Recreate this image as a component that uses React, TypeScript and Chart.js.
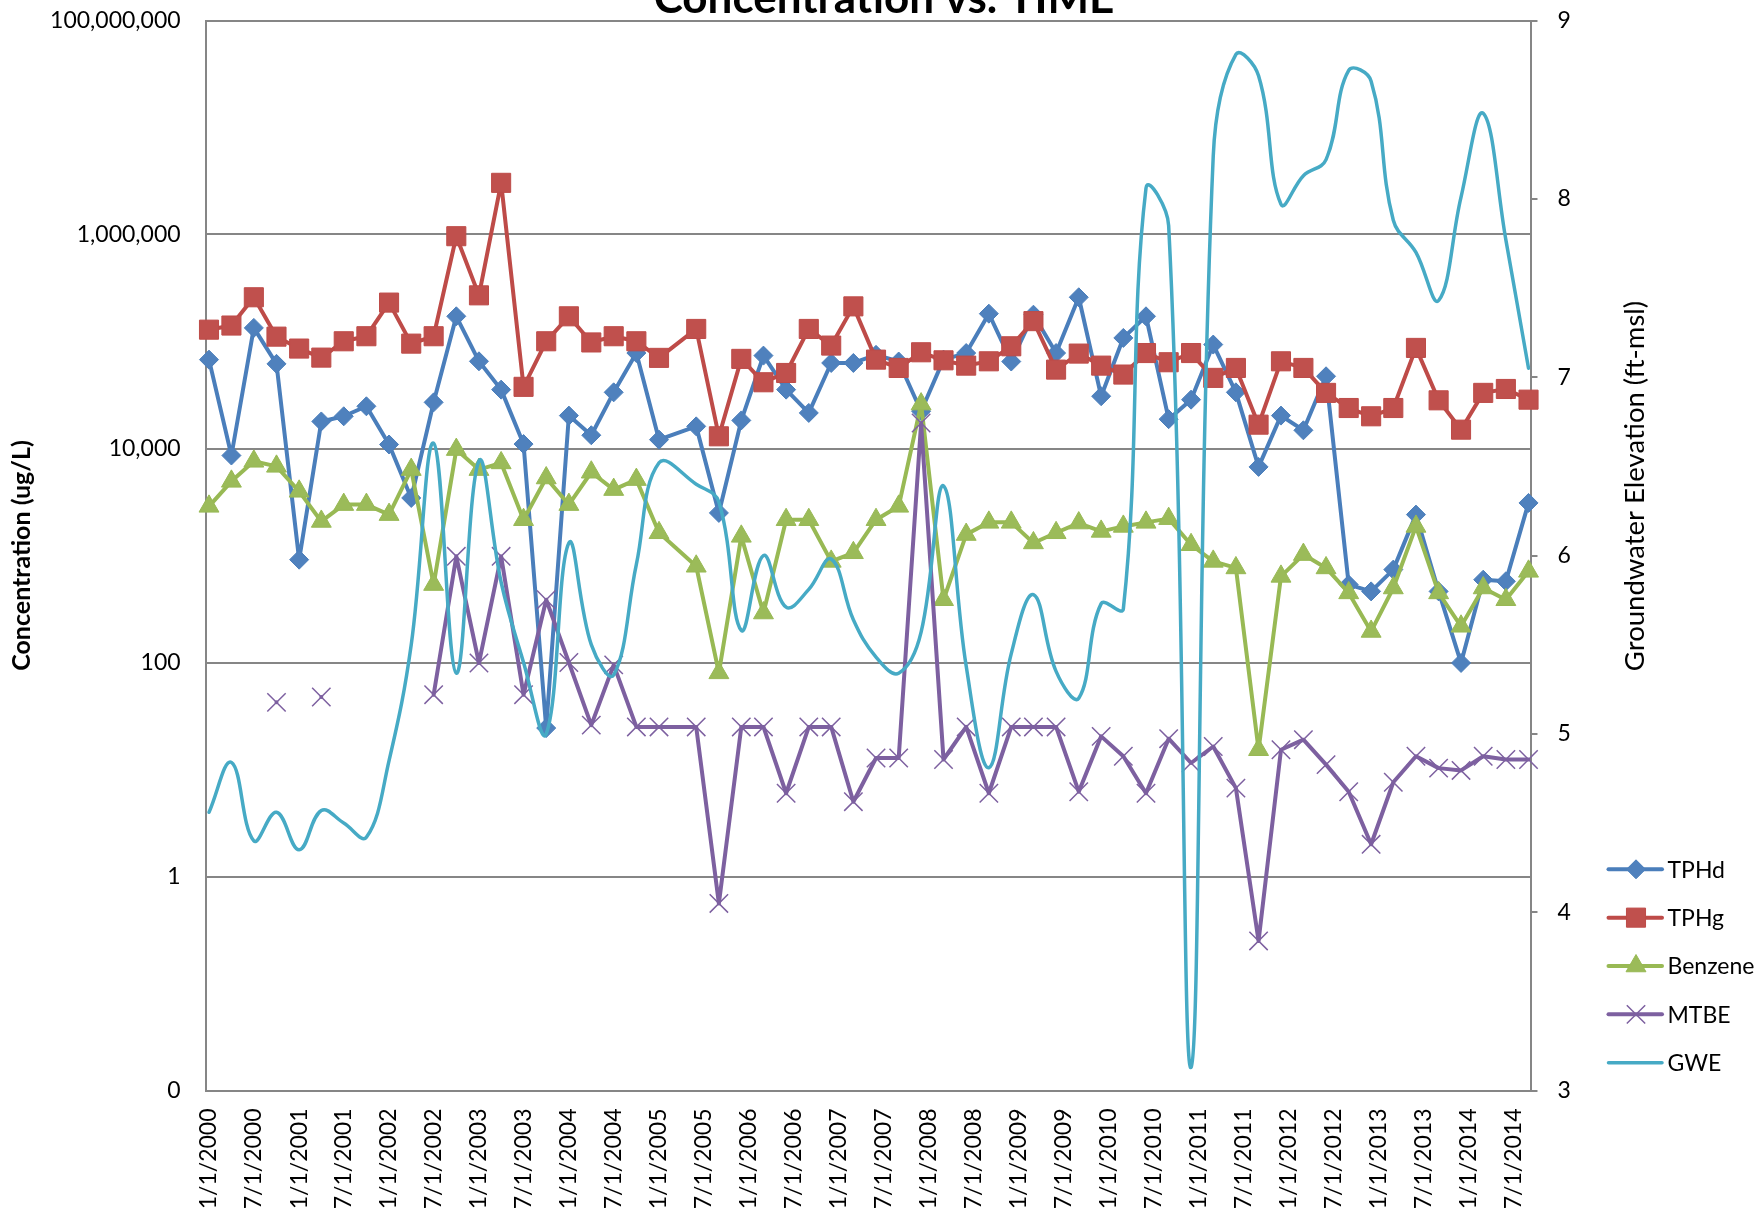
import React, { useEffect, useRef } from 'react';
import { Chart, registerables } from 'chart.js';

Chart.register(...registerables);

// ---------- data ----------
const sampleDates: string[] = [
  '2000-01-01', '2000-04-01', '2000-07-01', '2000-10-01',
  '2001-01-01', '2001-04-01', '2001-07-01', '2001-10-01',
  '2002-01-01', '2002-04-01', '2002-07-01', '2002-10-01',
  '2003-01-01', '2003-04-01', '2003-07-01', '2003-10-01',
  '2004-01-01', '2004-04-01', '2004-07-01', '2004-10-01',
  '2005-01-01',
  '2005-06-01', '2005-09-01', '2005-12-01',
  '2006-03-01', '2006-06-01', '2006-09-01', '2006-12-01',
  '2007-03-01', '2007-06-01', '2007-09-01', '2007-12-01',
  '2008-03-01', '2008-06-01', '2008-09-01', '2008-12-01',
  '2009-03-01', '2009-06-01', '2009-09-01', '2009-12-01',
  '2010-03-01', '2010-06-01', '2010-09-01', '2010-12-01',
  '2011-03-01', '2011-06-01', '2011-09-01', '2011-12-01',
  '2012-03-01', '2012-06-01', '2012-09-01', '2012-12-01',
  '2013-03-01', '2013-06-01', '2013-09-01', '2013-12-01',
  '2014-03-01', '2014-06-01', '2014-09-01',
];

const tphd: (number | null)[] = [
  67700, 8600, 134000, 61800, 914, 17900, 20000, 24800, 10900, 3450, 27000, 172000,
  65300, 35500, 11000, 24.4, 20300, 13300, 33500, 78000, 12100,
  16100, 2500, 18300, 73800, 35500, 21500, 63000, 63000, 75000, 65000, 22300,
  67700, 78000, 182000, 65000, 178000, 78000, 259000, 30800, 108000, 172000, 18800,
  28600, 93600, 33500, 6730, 20300, 14800, 47300, 535, 462, 738, 2410, 462, 99,
  594, 574, 3100,
];

const tphg: (number | null)[] = [
  129000, 141000, 259000, 111000, 85900, 70700, 100500, 112000, 231000, 95500, 112000, 964000,
  270000, 3040000, 37700, 100500, 172000, 98000, 112000, 100500, 70300,
  131000, 13000, 68800, 41600, 50800, 131000, 91600, 213000, 67700, 56600, 79300,
  66700, 59500, 65300, 90200, 155000, 54600, 77100, 59500, 49100, 78000, 64000,
  78000, 45700, 56600, 16700, 65300, 56600, 33100, 23900, 20000, 23900, 87100, 28200, 15000,
  33100, 36000, 28600,
];

const benzene: (number | null)[] = [
  2880, 4930, 7590, 6810, 3980, 2080, 2990, 2990, 2410, 6350, 535, 9770,
  6350, 7330, 2160, 5300, 2990, 6000, 4130, 5120, 1630,
  793, 80, 1510, 290, 2160, 2160, 881, 1060, 2160, 2880, 26000,
  386, 1570, 2040, 2040, 1310, 1630, 2010, 1680, 1870, 2040, 2210,
  1260, 881, 765, 15.3, 638, 1020, 765, 447, 195, 497, 1870, 447, 218,
  497, 386, 711,
];

const mtbe: (number | null)[] = [
  null, null, null, 42.4, null, 47.6, null, null, null, null, 50, 982,
  99, 982, 50, 386, 100, 26, 95, 25, 25,
  25, 0.56, 25, 25, 6.0, 25, 25, 5.0, 12.8, 12.8, 17300,
  12.4, 25, 6.0, 25, 25, 25, 6.2, 20.4, 13.3, 6.0, 19.4,
  11.5, 16.4, 6.7, 0.25, 15.3, 19, 11.1, 6.2, 2.0, 7.6, 13.3, 10.3, 9.8,
  13.3, 12.4, 12.4,
];

const gwe: (number | null)[] = [
  4.56, 4.84, 4.40, 4.56, 4.35, 4.57, 4.50, 4.42, 4.85, 5.5, 6.63, 5.34,
  6.53, 5.85, 5.40, 5.0, 6.07, 5.5, 5.33, 5.95, 6.52,
  6.40, 6.30, 5.58, 6.0, 5.71, 5.81, 5.98, 5.64, 5.43, 5.34, 5.57,
  6.39, 5.38, 4.81, 5.45, 5.78, 5.35, 5.2, 5.73, 5.70, 8.06, 7.85,
  3.13, 8.24, 8.81, 8.69, 7.97, 8.13, 8.22, 8.72, 8.66, 7.88, 7.70, 7.43, 8.01,
  8.48, 7.77, 7.05,
];

const dateTickLabels: string[] = [
  '1/1/2000', '7/1/2000', '1/1/2001', '7/1/2001', '1/1/2002', '7/1/2002',
  '1/1/2003', '7/1/2003', '1/1/2004', '7/1/2004', '1/1/2005', '7/1/2005',
  '1/1/2006', '7/1/2006', '1/1/2007', '7/1/2007', '1/1/2008', '7/1/2008',
  '1/1/2009', '7/1/2009', '1/1/2010', '7/1/2010', '1/1/2011', '7/1/2011',
  '1/1/2012', '7/1/2012', '1/1/2013', '7/1/2013', '1/1/2014', '7/1/2014',
];

const leftTicks: number[] = [0.01, 1, 100, 10000, 1000000, 100000000];
const rightTicks: number[] = [3, 4, 5, 6, 7, 8, 9];

const seriesNames = ['TPHd', 'TPHg', 'Benzene', 'MTBE', 'GWE'];
const titleText = 'Concentration vs. TIME';
const leftTitle = 'Concentration (ug/L)';
const rightTitle = 'Groundwater Elevation (ft-msl)';

// ---------- helpers ----------
const DAY0 = Date.UTC(2000, 0, 1);
const isoToDay = (iso: string) => {
  const [y, m, d] = iso.split('-').map(Number);
  return (Date.UTC(y, m - 1, d) - DAY0) / 864e5;
};
const usToDay = (s: string) => {
  const [m, d, y] = s.split('/').map(Number);
  return (Date.UTC(y, m - 1, d) - DAY0) / 864e5;
};
const xTickDays = dateTickLabels.map(usToDay);
const mk = (vals: (number | null)[]) =>
  sampleDates.map((d, i) => ({ x: isoToDay(d), y: vals[i] }));

const FONT = 'Lato';
const GRID = '#868686';

type Style = {
  line: string;
  fill: string;
  point: string;
  radius: number;
  pbw: number;
  width: number;
};
const styles: Style[] = [
  { line: '#4A7EBB', fill: '#4F81BD', point: 'rectRot', radius: 9.5, pbw: 1, width: 4 },
  { line: '#BE4B48', fill: '#C0504D', point: 'rect', radius: 13.5, pbw: 1, width: 4 },
  { line: '#98B954', fill: '#9BBB59', point: 'triangle', radius: 11.5, pbw: 1, width: 4 },
  { line: '#7D60A0', fill: '#8064A2', point: 'crossRot', radius: 13, pbw: 1.5, width: 4 },
  { line: '#46AAC5', fill: '#4BACC6', point: 'none', radius: 0, pbw: 0, width: 3.5 },
];

function drawMarker(ctx: CanvasRenderingContext2D, kind: string, x: number, y: number, r: number, st: Style) {
  ctx.save();
  ctx.fillStyle = st.fill;
  ctx.strokeStyle = st.line;
  ctx.lineWidth = st.pbw;
  ctx.beginPath();
  if (kind === 'rectRot') {
    ctx.moveTo(x, y - r); ctx.lineTo(x + r, y); ctx.lineTo(x, y + r); ctx.lineTo(x - r, y); ctx.closePath();
    ctx.fill(); ctx.stroke();
  } else if (kind === 'rect') {
    const s = r * Math.SQRT1_2;
    ctx.rect(x - s, y - s, 2 * s, 2 * s); ctx.fill(); ctx.stroke();
  } else if (kind === 'triangle') {
    for (let k = 0; k < 3; k++) {
      const a = (k * 2 * Math.PI) / 3;
      const px = x + Math.sin(a) * r;
      const py = y - Math.cos(a) * r;
      if (k === 0) ctx.moveTo(px, py); else ctx.lineTo(px, py);
    }
    ctx.closePath(); ctx.fill(); ctx.stroke();
  } else if (kind === 'crossRot') {
    const s = r * Math.SQRT1_2;
    ctx.moveTo(x - s, y - s); ctx.lineTo(x + s, y + s);
    ctx.moveTo(x + s, y - s); ctx.lineTo(x - s, y + s);
    ctx.stroke();
  }
  ctx.restore();
}

const overlay = {
  id: 'overlay',
  afterDraw(chart: any) {
    const { ctx, chartArea } = chart;
    ctx.save();
    // main title (partly cut by the top edge like the reference)
    ctx.fillStyle = '#000';
    ctx.font = `bold 44px ${FONT}`;
    ctx.textAlign = 'center';
    ctx.textBaseline = 'alphabetic';
    ctx.fillText(titleText, 884, 12.7);

    // right axis title, reading bottom to top
    ctx.save();
    ctx.translate(chartArea.right + 104.5, chartArea.top + 465.5);
    ctx.rotate(-Math.PI / 2);
    ctx.font = `27.5px ${FONT}`;
    ctx.textAlign = 'center';
    ctx.textBaseline = 'middle';
    ctx.fillText(rightTitle, 0, 0);
    ctx.restore();

    // legend
    const lx0 = chartArea.right + 78;
    const lx1 = chartArea.right + 131.5;
    const mx = chartArea.right + 105.5;
    const tx = chartArea.right + 137;
    const y0 = chartArea.bottom - 221.2;
    const step = 48.35;
    seriesNames.forEach((name, i) => {
      const st = styles[i];
      const y = y0 + i * step;
      ctx.save();
      ctx.strokeStyle = st.line;
      ctx.lineWidth = st.width;
      ctx.lineCap = 'round';
      ctx.beginPath();
      ctx.moveTo(lx0, y);
      ctx.lineTo(lx1, y);
      ctx.stroke();
      ctx.restore();
      if (st.point !== 'none') drawMarker(ctx, st.point, mx, y, st.radius, st);
      ctx.fillStyle = '#000';
      ctx.font = `23px ${FONT}`;
      ctx.textAlign = 'left';
      ctx.textBaseline = 'middle';
      ctx.fillText(name, tx, y + 1);
    });
    ctx.restore();
  },
};

export default function App() {
  const ref = useRef<HTMLCanvasElement>(null);

  useEffect(() => {
    document.body.style.margin = '0';
    Chart.defaults.font.family = FONT;
    const seriesVals = [tphd, tphg, benzene, mtbe, gwe];
    const orders = [4, 3, 2, 1, 0];
    const datasets: any[] = seriesNames.map((name, i) => {
      const st = styles[i];
      const isGwe = name === 'GWE';
      return {
        label: name,
        data: mk(seriesVals[i]),
        yAxisID: isGwe ? 'y1' : 'y',
        borderColor: st.line,
        backgroundColor: st.fill,
        borderWidth: st.width,
        borderJoinStyle: 'round',
        borderCapStyle: 'round',
        pointStyle: isGwe ? false : st.point,
        pointRadius: st.radius,
        pointHoverRadius: st.radius,
        pointBackgroundColor: st.fill,
        pointBorderColor: st.line,
        pointBorderWidth: st.pbw,
        tension: isGwe ? 0.4 : 0,
        cubicInterpolationMode: 'default',
        spanGaps: false,
        fill: false,
        order: orders[i],
        clip: false,
      };
    });

    const chart = new Chart(ref.current as HTMLCanvasElement, {
      type: 'line',
      data: { datasets },
      plugins: [overlay],
      options: {
        responsive: false,
        devicePixelRatio: 1,
        animation: false,
        events: [],
        layout: { padding: { top: 20.5, left: 0, right: 0, bottom: 0 } },
        plugins: {
          legend: { display: false },
          tooltip: { enabled: false },
          title: { display: false },
        },
        scales: {
          x: {
            type: 'linear',
            min: -13.8,
            max: 5365,
            afterBuildTicks: (s: any) => {
              s.ticks = xTickDays.map((v) => ({ value: v }));
            },
            afterFit: (s: any) => {
              s.height = 124.5;
              s.paddingLeft = 0;
              s.paddingRight = 0;
            },
            ticks: {
              autoSkip: false,
              maxRotation: 90,
              minRotation: 90,
              padding: 18,
              color: '#000',
              font: { family: FONT, size: 23 },
              callback: (_v: any, idx: number) => dateTickLabels[idx],
            },
            grid: { display: false, drawTicks: false },
            border: { display: true, color: GRID, width: 2 },
          },
          y: {
            type: 'logarithmic',
            position: 'left',
            min: 0.01,
            max: 100000000,
            afterBuildTicks: (s: any) => {
              s.ticks = leftTicks.map((v) => ({ value: v }));
            },
            afterFit: (s: any) => {
              s.width = 205.6;
              s.paddingTop = 0;
              s.paddingBottom = 0;
            },
            ticks: {
              padding: 25,
              color: '#000',
              font: { family: FONT, size: 23 },
              callback: (v: any) => (Number(v) < 1 ? '0' : Number(v).toLocaleString('en-US')),
            },
            grid: { color: GRID, lineWidth: 2, drawTicks: false },
            border: { display: true, color: GRID, width: 2 },
            title: {
              display: true,
              text: leftTitle,
              color: '#000',
              font: { family: FONT, size: 25, weight: 'bold' },
              padding: { top: 7, bottom: 0 },
            },
          },
          y1: {
            type: 'linear',
            position: 'right',
            min: 3,
            max: 9,
            afterBuildTicks: (s: any) => {
              s.ticks = rightTicks.map((v) => ({ value: v }));
            },
            afterFit: (s: any) => {
              s.width = 231.5;
              s.paddingTop = 0;
              s.paddingBottom = 0;
            },
            ticks: {
              padding: 20,
              color: '#000',
              font: { family: FONT, size: 23 },
            },
            grid: { drawOnChartArea: false, drawTicks: true, tickLength: 7, color: GRID, lineWidth: 2 },
            border: { display: true, color: GRID, width: 2 },
          },
        },
      } as any,
    });
    return () => chart.destroy();
  }, []);

  return (
    <div style={{ position: 'fixed', left: 0, top: 0, width: 1762, height: 1215, background: '#fff' }}>
      <canvas ref={ref} width={1762} height={1215} style={{ display: 'block', width: 1762, height: 1215 }} />
    </div>
  );
}
